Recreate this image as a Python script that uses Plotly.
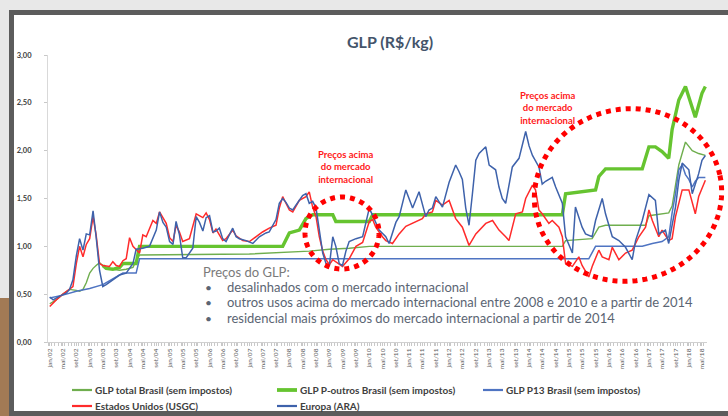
import math
import plotly.graph_objects as go

# ---------------- data (R$/kg) ----------------
TOTAL_DATES = ["2002-01", "2002-03", "2002-05", "2002-07", "2002-09", "2002-10", "2002-11", "2002-12",
               "2003-01", "2003-02", "2003-03", "2003-04", "2003-05", "2003-06", "2003-08", "2003-10",
               "2003-12", "2004-02", "2004-03", "2004-04", "2007-01", "2007-09", "2008-01", "2008-07",
               "2009-01", "2009-07", "2010-01", "2014-11", "2014-12", "2015-08", "2015-10", "2015-12",
               "2016-12", "2017-01", "2017-07", "2017-08", "2017-10", "2017-12", "2018-02", "2018-04",
               "2018-06"]
TOTAL_VALUES = [0.40, 0.44, 0.50, 0.55, 0.54, 0.53, 0.55, 0.62,
                0.72, 0.77, 0.80, 0.83, 0.80, 0.77, 0.76, 0.75,
                0.76, 0.78, 0.85, 0.91, 0.92, 0.93, 0.94, 0.95,
                0.97, 0.98, 1.00, 1.00, 1.06, 1.08, 1.20, 1.22,
                1.22, 1.32, 1.35, 1.42, 1.85, 2.09, 2.00, 1.97,
                1.95]

OUTROS_DATES = ["2003-05", "2003-06", "2003-08", "2003-10", "2003-11", "2004-03", "2004-04", "2007-11",
                "2008-01", "2008-04", "2008-06", "2008-08", "2009-02", "2009-03", "2010-01", "2010-02",
                "2014-11", "2014-12", "2015-09", "2015-10", "2015-12", "2016-11", "2017-01", "2017-03",
                "2017-05", "2017-07", "2017-08", "2017-10", "2017-12", "2018-01", "2018-03", "2018-05",
                "2018-06"]
OUTROS_VALUES = [0.80, 0.77, 0.76, 0.78, 0.82, 0.82, 1.00, 1.00,
                 1.14, 1.17, 1.29, 1.33, 1.33, 1.26, 1.26, 1.33,
                 1.33, 1.55, 1.59, 1.73, 1.81, 1.81, 2.04, 2.04,
                 1.99, 1.92, 2.22, 2.53, 2.67, 2.55, 2.35, 2.60,
                 2.67]

P13_DATES = ["2002-01", "2002-05", "2002-09", "2003-01", "2003-05", "2003-08", "2003-11", "2004-03",
             "2004-04", "2015-07", "2015-09", "2016-11", "2017-02", "2017-05", "2017-07", "2017-08",
             "2017-09", "2017-10", "2017-11", "2017-12", "2018-01", "2018-02", "2018-03", "2018-04",
             "2018-06"]
P13_VALUES = [0.46, 0.49, 0.53, 0.56, 0.60, 0.66, 0.72, 0.72,
              0.87, 0.87, 1.00, 1.00, 1.03, 1.05, 1.10, 1.35,
              1.55, 1.80, 1.85, 1.75, 1.70, 1.62, 1.68, 1.72,
              1.72]

USGC_DATES = ["2002-01", "2002-03", "2002-05", "2002-07", "2002-08", "2002-09", "2002-10", "2002-11",
              "2002-12", "2003-01", "2003-02", "2003-03", "2003-04", "2003-05", "2003-07", "2003-08",
              "2003-09", "2003-10", "2003-11", "2003-12", "2004-01", "2004-02", "2004-04", "2004-05",
              "2004-06", "2004-08", "2004-09", "2004-10", "2004-12", "2005-01", "2005-02", "2005-03",
              "2005-04", "2005-05", "2005-07", "2005-09", "2005-11", "2005-12", "2006-01", "2006-02",
              "2006-03", "2006-04", "2006-05", "2006-06", "2006-08", "2006-09", "2006-11", "2007-01",
              "2007-03", "2007-05", "2007-07", "2007-09", "2007-10", "2007-11", "2007-12", "2008-01",
              "2008-02", "2008-04", "2008-06", "2008-07", "2008-08", "2008-09", "2008-10", "2008-11",
              "2008-12", "2009-01", "2009-02", "2009-03", "2009-05", "2009-07", "2009-09", "2009-11",
              "2010-01", "2010-02", "2010-03", "2010-05", "2010-06", "2010-08", "2010-10", "2010-12",
              "2011-03", "2011-05", "2011-06", "2011-08", "2011-09", "2011-11", "2012-01", "2012-03",
              "2012-05", "2012-07", "2012-09", "2012-12", "2013-02", "2013-04", "2013-06", "2013-07",
              "2013-09", "2013-11", "2013-12", "2014-02", "2014-03", "2014-04", "2014-05", "2014-07",
              "2014-08", "2014-10", "2014-11", "2014-12", "2015-02", "2015-04", "2015-05", "2015-07",
              "2015-08", "2015-10", "2015-11", "2016-01", "2016-02", "2016-04", "2016-06", "2016-08",
              "2016-10", "2016-12", "2017-01", "2017-02", "2017-04", "2017-05", "2017-07", "2017-08",
              "2017-09", "2017-11", "2018-01", "2018-03", "2018-04", "2018-06"]
USGC_VALUES = [0.37, 0.44, 0.50, 0.55, 0.58, 0.82, 1.00, 0.89,
               1.02, 1.08, 1.31, 1.12, 0.82, 0.80, 0.79, 0.84,
               0.80, 0.79, 0.85, 0.87, 1.09, 1.00, 0.93, 1.12,
               1.10, 1.27, 1.24, 1.36, 1.24, 1.09, 1.05, 1.22,
               1.15, 1.05, 1.08, 1.34, 1.30, 1.35, 1.28, 1.14,
               1.18, 1.12, 1.06, 1.08, 1.17, 1.11, 1.06, 1.05,
               1.10, 1.15, 1.19, 1.22, 1.40, 1.52, 1.45, 1.38,
               1.36, 1.48, 1.52, 1.57, 1.41, 1.31, 1.10, 0.95,
               0.86, 0.81, 0.86, 0.84, 0.79, 0.87, 1.00, 1.04,
               1.26, 1.28, 1.20, 1.10, 1.06, 1.03, 1.13, 1.21,
               1.26, 1.29, 1.34, 1.36, 1.48, 1.43, 1.48, 1.29,
               1.20, 1.01, 1.13, 1.24, 1.27, 1.17, 1.10, 1.06,
               1.34, 1.36, 1.50, 1.64, 1.59, 1.38, 1.34, 1.24,
               1.27, 1.20, 1.10, 0.82, 0.79, 0.89, 0.80, 0.68,
               0.79, 0.96, 0.89, 0.86, 0.99, 0.86, 0.93, 0.96,
               1.10, 1.20, 1.38, 1.27, 1.10, 1.17, 1.06, 1.08,
               1.31, 1.59, 1.59, 1.34, 1.52, 1.69]

ARA_DATES = ["2002-01", "2002-02", "2002-04", "2002-06", "2002-07", "2002-08", "2002-09", "2002-10",
             "2002-11", "2002-12", "2003-01", "2003-02", "2003-03", "2003-04", "2003-05", "2003-06",
             "2003-08", "2003-10", "2003-12", "2004-02", "2004-03", "2004-05", "2004-07", "2004-09",
             "2004-10", "2004-11", "2004-12", "2005-01", "2005-02", "2005-03", "2005-04", "2005-05",
             "2005-06", "2005-08", "2005-09", "2005-10", "2005-11", "2005-12", "2006-01", "2006-02",
             "2006-03", "2006-04", "2006-05", "2006-06", "2006-08", "2006-09", "2006-10", "2006-12",
             "2007-02", "2007-04", "2007-06", "2007-07", "2007-09", "2007-10", "2007-11", "2007-12",
             "2008-01", "2008-02", "2008-03", "2008-04", "2008-05", "2008-06", "2008-07", "2008-08",
             "2008-09", "2008-10", "2008-11", "2008-12", "2009-01", "2009-02", "2009-03", "2009-04",
             "2009-05", "2009-06", "2009-07", "2009-09", "2009-11", "2010-01", "2010-02", "2010-03",
             "2010-04", "2010-06", "2010-07", "2010-09", "2010-10", "2010-12", "2011-02", "2011-04",
             "2011-06", "2011-07", "2011-08", "2011-09", "2011-11", "2012-01", "2012-03", "2012-04",
             "2012-05", "2012-06", "2012-07", "2012-08", "2012-09", "2012-10", "2012-12", "2013-01",
             "2013-03", "2013-04", "2013-05", "2013-06", "2013-08", "2013-10", "2013-12", "2014-01",
             "2014-02", "2014-04", "2014-05", "2014-06", "2014-08", "2014-09", "2014-11", "2014-12",
             "2015-02", "2015-03", "2015-05", "2015-06", "2015-08", "2015-09", "2015-11", "2015-12",
             "2016-02", "2016-04", "2016-06", "2016-08", "2016-09", "2016-11", "2017-01", "2017-03",
             "2017-04", "2017-06", "2017-07", "2017-09", "2017-10", "2017-11", "2018-01", "2018-02",
             "2018-04", "2018-05", "2018-06"]
ARA_VALUES = [0.47, 0.44, 0.48, 0.51, 0.55, 0.65, 0.90, 1.08,
              0.96, 1.13, 1.12, 1.37, 1.10, 0.75, 0.58, 0.60,
              0.65, 0.70, 0.72, 0.82, 0.97, 0.98, 1.00, 1.17,
              1.36, 1.25, 1.20, 1.05, 1.02, 1.26, 1.12, 0.88,
              0.88, 0.98, 1.31, 1.25, 1.16, 1.30, 1.32, 1.15,
              1.16, 1.19, 1.08, 1.05, 1.19, 1.10, 1.08, 1.06,
              1.03, 1.10, 1.14, 1.15, 1.28, 1.45, 1.50, 1.46,
              1.40, 1.38, 1.43, 1.48, 1.53, 1.55, 1.45, 1.47,
              1.40, 1.17, 0.93, 0.82, 0.80, 1.10, 1.00, 0.82,
              0.80, 0.95, 1.05, 1.08, 1.10, 1.40, 1.32, 1.25,
              1.17, 1.10, 1.03, 1.25, 1.31, 1.59, 1.40, 1.57,
              1.31, 1.38, 1.40, 1.52, 1.41, 1.67, 1.85, 1.78,
              1.70, 1.40, 1.22, 1.55, 1.90, 1.97, 2.04, 1.85,
              1.80, 1.62, 1.50, 1.45, 1.83, 1.92, 2.20, 2.05,
              1.95, 1.83, 1.65, 1.68, 1.72, 1.62, 1.45, 1.10,
              0.93, 1.41, 1.20, 1.13, 1.10, 1.27, 1.50, 1.34,
              1.10, 1.06, 0.99, 0.86, 1.06, 1.27, 1.54, 1.48,
              1.13, 1.17, 1.03, 1.41, 1.69, 1.87, 1.80, 1.55,
              1.76, 1.90, 1.95]

SERIES_NAMES = ["GLP total Brasil (sem impostos)", "GLP P-outros Brasil (sem impostos)",
                "GLP P13 Brasil (sem impostos)", "Estados Unidos (USGC)", "Europa (ARA)"]

TICK_MONTHS = [("01", "jan"), ("05", "mai"), ("09", "set")]
TICK_YEARS = list(range(2002, 2019))

TITLE = "GLP (R$/kg)"
NOTE_HEADER = "Preços do GLP:"
NOTE_BULLETS = ["desalinhados com o mercado internacional",
                "outros usos acima do mercado internacional entre 2008 e 2010 e a partir de 2014",
                "residencial mais próximos do mercado internacional a partir de 2014"]
CALLOUT = "Preços acima<br>do mercado<br>internacional"

# ---------------- geometry helpers (pixels -> paper) ----------------
W, H = 728, 416
ML, MR, MT, MB = 48, 21, 55, 74
PW, PH = W - ML - MR, H - MT - MB


def fx(x):
    return (x - ML) / PW


def fy(y):
    return (H - MB - y) / PH


def ellipse_path(cx, cy, a, b, deg, n=120):
    th = math.radians(deg)
    pts = []
    for i in range(n + 1):
        t = 2 * math.pi * i / n
        x = cx + a * math.cos(t) * math.cos(th) + b * math.sin(t) * math.sin(th)
        y = cy - a * math.cos(t) * math.sin(th) + b * math.sin(t) * math.cos(th)
        pts.append(f"{fx(x):.5f},{fy(y):.5f}")
    return "M" + " L".join(pts) + " Z"


FONT = "Lato"

fig = go.Figure()

styles = [
    (TOTAL_DATES, TOTAL_VALUES, "#6fae4e", 1.4),
    (OUTROS_DATES, OUTROS_VALUES, "#66c430", 3.4),
    (P13_DATES, P13_VALUES, "#4f74c2", 1.5),
    (USGC_DATES, USGC_VALUES, "#ff2b2b", 1.5),
    (ARA_DATES, ARA_VALUES, "#3e62ab", 1.5),
]
for name, (xs, ys, col, w) in zip(SERIES_NAMES, styles):
    fig.add_trace(go.Scatter(x=[d + "-15" for d in xs], y=ys, mode="lines", name=name,
                             line=dict(color=col, width=w), hoverinfo="skip", showlegend=False))

tickvals = []
ticktext = []
for yr in TICK_YEARS:
    for mm, lab in TICK_MONTHS:
        if yr == 2018 and mm == "09":
            continue
        tickvals.append(f"{yr}-{mm}-15")
        ticktext.append(f"{lab}/{str(yr)[2:]}")

shapes = [
    # photographed slide frame
    dict(type="rect", xref="paper", yref="paper", x0=fx(0), x1=fx(W), y0=fy(0), y1=fy(H),
         fillcolor="#e8e8e8", line_width=0, layer="below"),
    dict(type="rect", xref="paper", yref="paper", x0=fx(0), x1=fx(9), y0=fy(298), y1=fy(H),
         fillcolor="#a27a55", line_width=0, layer="below"),
    dict(type="rect", xref="paper", yref="paper", x0=fx(9), x1=fx(W), y0=fy(10), y1=fy(H),
         fillcolor="#5c5c5c", line_width=0, layer="below"),
    dict(type="rect", xref="paper", yref="paper", x0=fx(14), x1=fx(W), y0=fy(15), y1=fy(411),
         fillcolor="#ffffff", line_width=0, layer="below"),
    # dotted red ellipses
    dict(type="path", xref="paper", yref="paper", path=ellipse_path(342, 233, 37, 36, 0),
         line=dict(color="#ff0000", width=5, dash="5px,5px"), layer="above"),
    dict(type="path", xref="paper", yref="paper", path=ellipse_path(628, 195, 94, 86, 12),
         line=dict(color="#ff0000", width=5, dash="5px,5px"), layer="above"),
]

annotations = [
    dict(text=TITLE, x=fx(390), y=fy(30), xref="paper", yref="paper", showarrow=False,
         font=dict(family=FONT, size=16, color="#44546a", weight="bold")),
    dict(text=CALLOUT, x=fx(345), y=fy(167), xref="paper", yref="paper", showarrow=False,
         font=dict(family=FONT, size=9.5, color="#ff1a1a", weight="bold"), align="center"),
    dict(text=CALLOUT, x=fx(577), y=fy(88), xref="paper", yref="paper", showarrow=False,
         font=dict(family=FONT, size=9.5, color="#ff1a1a", weight="bold"), align="center"),
    dict(text=NOTE_HEADER, x=fx(201), y=fy(282), xref="paper", yref="paper", showarrow=False,
         xanchor="left", font=dict(family=FONT, size=13, color="#7a7a7a")),
]
for i, line in enumerate(NOTE_BULLETS):
    yy = 296.5 + i * 15.5
    annotations.append(dict(text="•", x=fx(203), y=fy(yy), xref="paper", yref="paper",
                            showarrow=False, xanchor="left",
                            font=dict(family=FONT, size=12, color="#5b6573")))
    annotations.append(dict(text=line, x=fx(225), y=fy(yy), xref="paper", yref="paper",
                            showarrow=False, xanchor="left",
                            font=dict(family=FONT, size=13, color="#5b6573")))

# hand-placed legend (3 columns, 2 rows) matching the slide
legend_slots = [(72, 390), (277, 390), (483, 390), (72, 406), (277, 406)]
for name, (xs, ys, col, w), (lx, ly) in zip(SERIES_NAMES, styles, legend_slots):
    shapes.append(dict(type="line", xref="paper", yref="paper", x0=fx(lx), x1=fx(lx + 20),
                       y0=fy(ly), y1=fy(ly), line=dict(color=col, width=max(w, 1.8) + 0.4)))
    annotations.append(dict(text=name, x=fx(lx + 21), y=fy(ly), xref="paper", yref="paper",
                            showarrow=False, xanchor="left", yanchor="middle",
                            font=dict(family=FONT, size=10, color="#404040", weight="bold")))

fig.update_layout(
    width=W, height=H, autosize=False,
    margin=dict(l=ML, r=MR, t=MT, b=MB, pad=0, autoexpand=False),
    paper_bgcolor="#e8e8e8", plot_bgcolor="rgba(0,0,0,0)",
    separators=",.",
    showlegend=False,
    shapes=shapes, annotations=annotations,
    xaxis=dict(type="date", range=["2001-12-30", "2018-06-30"],
               tickvals=tickvals, ticktext=ticktext, tickangle=-90,
               tickfont=dict(family=FONT, size=6.5, color="#595959"),
               showgrid=False, zeroline=False, showline=True, linecolor="#d0d0d0", linewidth=1,
               ticks="outside", ticklen=3, tickcolor="#c8c8c8",
               minor=dict(dtick="M1", ticks="outside", ticklen=3, tickcolor="#c8c8c8", showgrid=False)),
    yaxis=dict(range=[0, 3.0], dtick=0.5, tickformat=".2f",
               tickfont=dict(family=FONT, size=7.5, color="#404040", weight="bold"),
               showgrid=False, zeroline=False, showline=True, linecolor="#d9d9d9", linewidth=1,
               ticks="outside", ticklen=3, tickcolor="#c8c8c8", ticklabelstandoff=11),
)

fig.write_html("out.html", config={"displayModeBar": False},
               post_script="document.body.style.margin='0';document.body.style.overflow='hidden';")
